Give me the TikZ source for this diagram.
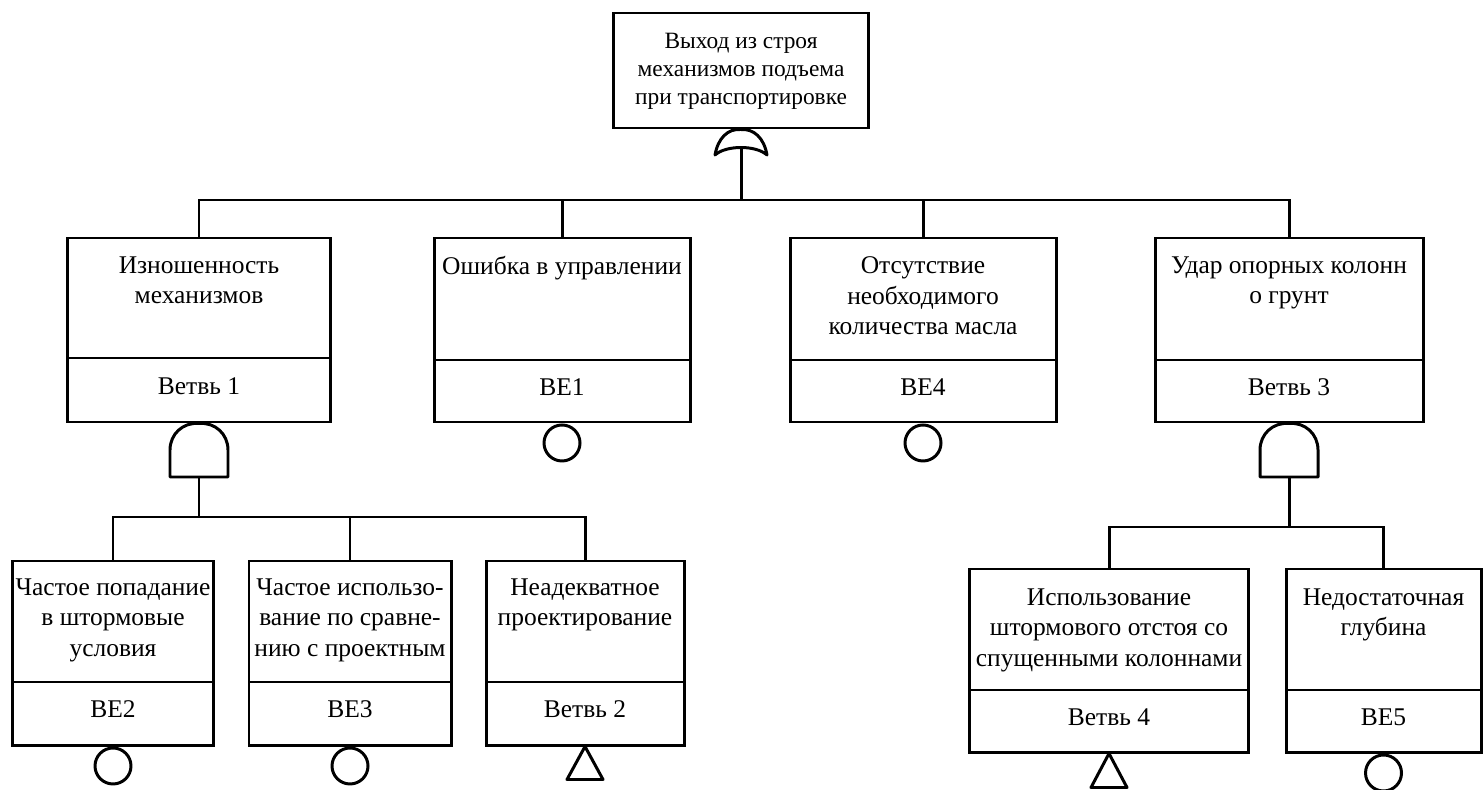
\documentclass[tikz,border=0pt]{standalone}
\usepackage{fontspec}
\setmainfont{Liberation Serif}
\usetikzlibrary{fit}
\newcommand{\bxfont}{\fontsize{14.5}{17.5}\selectfont}
\newcommand{\topfont}{\fontsize{13.3}{16}\selectfont}
% name, cx, top, bottom, divider, width, text, label, text offset
\newcommand{\ftbox}[9]{%
  \node[frame, fit={({#2-#6/2},#3) ({#2+#6/2},#4)}] (#1) {};
  \draw ({#2-#6/2},#5) -- ({#2+#6/2},#5);
  \node[txt] (#1-t) at (#2,{#3+#9}) {#7};
  \node[lbl] (#1-l) at (#2,{(#5+#4)/2-4}) {#8};
}
\begin{document}
\begin{tikzpicture}[x=0.02cm,y=-0.02cm,line width=1.7pt,
  frame/.style={draw, inner sep=0pt, line width=1.7pt},
  txt/.style={anchor=north, align=center, inner sep=0pt, font=\bxfont},
  lbl/.style={anchor=center, inner sep=0pt, font=\bxfont},
  basic/.style={circle, draw, minimum size=0.72cm, inner sep=0pt, anchor=north, line width=1.7pt},
  gate/.style={line width=1.7pt, line join=round}]
\useasboundingbox (0,0) rectangle (1483,790);
\fill[white] (0,0) rectangle (1483,790);

% top event
\node[frame, fit={(613,13) (868,128)}] (T0) {};
\node[align=center, inner sep=0pt, font=\topfont] (T0-t) at (741,71) {Выход из строя\\механизмов подъема\\при транспортировке};

% level 2
\ftbox{B1}{199}{238}{422}{358}{263}{Изношенность\\механизмов}{Ветвь 1}{17}
\ftbox{B2}{562}{238}{422}{360}{256}{Ошибка в управлении}{BE1}{17}
\ftbox{B3}{923}{238}{422}{360}{266}{Отсутствие\\необходимого\\количества масла}{BE4}{17}
\ftbox{B4}{1289}{238}{422}{360}{268}{Удар опорных колонн\\о грунт}{Ветвь 3}{17}

% level 3 left
\ftbox{C1}{113}{561}{745}{682}{201}{Частое попадание\\в штормовые\\условия}{BE2}{16}
\ftbox{C2}{350}{561}{745}{682}{202}{Частое использо-\\вание по сравне-\\нию с проектным}{BE3}{16}
\ftbox{C3}{585}{561}{745}{682}{198}{Неадекватное\\проектирование}{Ветвь 2}{16}

% level 3 right
\ftbox{D1}{1109}{569}{752}{690}{279}{Использование\\штормового отстоя со\\спущенными колоннами}{Ветвь 4}{18}
\ftbox{D2}{1383.5}{569}{752}{690}{195}{Недостаточная\\глубина}{BE5}{18}

% OR gate under top event
\coordinate (g0t) at (T0.south);
\draw[gate] (715,155) .. controls (718,138) and (728,128.5) .. (g0t)
  .. controls (754,128.5) and (764,138) .. (767,155)
  .. controls (756,145) and (726,145) .. cycle;
\coordinate (g0b) at (741,147.5);
\coordinate (bus0) at (741,200);

% AND gate under B1
\coordinate (g1b) at (199,477);
\draw[gate] (170,477) -- (170,450) .. controls (170,434) and (183,422) .. (B1.south)
  .. controls (215,422) and (228,434) .. (228,450) -- (228,477) -- cycle;
\coordinate (bus1) at (199,517);

% AND gate under B4
\coordinate (g4b) at (1289,477);
\draw[gate] (1260,477) -- (1260,450) .. controls (1260,434) and (1273,422) .. (B4.south)
  .. controls (1305,422) and (1318,434) .. (1318,450) -- (1318,477) -- cycle;
\coordinate (bus2) at (1289,527);

% connectors
\draw (g0b) -- (bus0);
\draw (B1.north) -- (B1.north |- bus0) -- (B4.north |- bus0) -- (B4.north);
\draw (B2.north) -- (B2.north |- bus0);
\draw (B3.north) -- (B3.north |- bus0);

\draw (g1b) -- (bus1);
\draw (C1.north) -- (C1.north |- bus1) -- (C3.north |- bus1) -- (C3.north);
\draw (C2.north) -- (C2.north |- bus1);

\draw (g4b) -- (bus2);
\draw (D1.north) -- (D1.north |- bus2) -- (D2.north |- bus2) -- (D2.north);

% basic events and transfer symbols
\node[basic] (e1) at (B2.south) {};
\node[basic] (e4) at (B3.south) {};
\node[basic] (e2) at (C1.south) {};
\node[basic] (e3) at (C2.south) {};
\node[basic] (e5) at (D2.south) {};
\draw[gate] (C3.south) -- ++(18,33) -- ++(-36,0) -- cycle;
\draw[gate] (D1.south) -- ++(18,34) -- ++(-36,0) -- cycle;
\end{tikzpicture}
\end{document}
